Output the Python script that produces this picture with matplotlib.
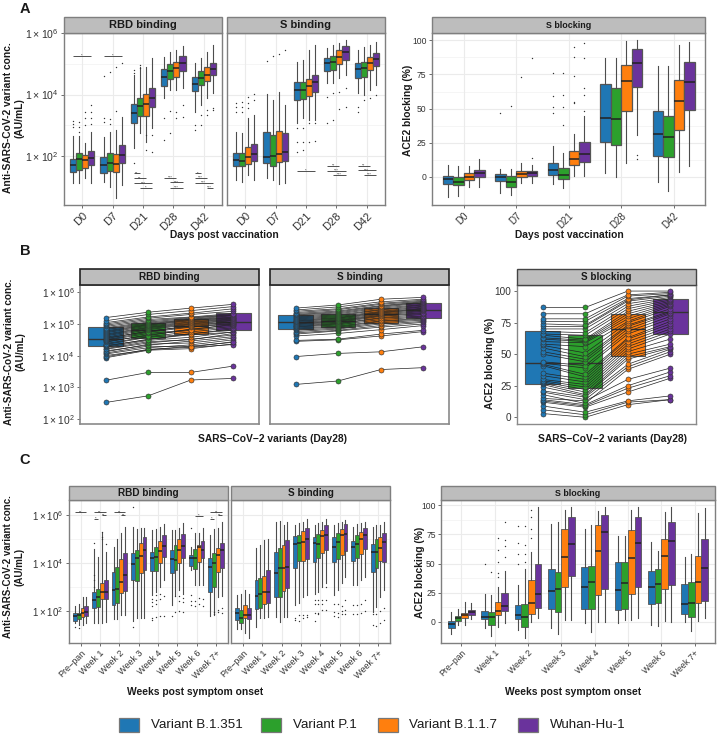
import matplotlib
matplotlib.use("Agg")
import matplotlib.pyplot as plt
from matplotlib.patches import Rectangle

plt.rcParams['font.family'] = ['Liberation Sans', 'DejaVu Sans']
plt.rcParams['mathtext.fontset'] = 'custom'
plt.rcParams['mathtext.rm'] = 'Liberation Sans'

W, H = 718, 735

variants = ['Variant B.1.351', 'Variant P.1', 'Variant B.1.1.7', 'Wuhan-Hu-1']
colors = ['#1f77b4', '#2ca02c', '#ff7f0e', '#6a339c']
days = ['D0', 'D7', 'D21', 'D28', 'D42']
weeks = ['Pre\u2212pan', 'Week 1', 'Week 2', 'Week 3', 'Week 4', 'Week 5', 'Week 6', 'Week 7+']

# every box is [q3, median, q1, whisker high, whisker low]; binding values are log10(AU/mL)
a_rbd = [
    [[1.88, 1.69, 1.46, 2.64, 1.10], [2.08, 1.88, 1.53, 2.64, 1.10], [2.01, 1.86, 1.59, 2.40, 1.26], [2.15, 1.91, 1.69, 2.78, 1.10]],
    [[1.97, 1.69, 1.42, 2.62, 1.15], [2.10, 1.75, 1.51, 2.78, 0.99], [2.05, 1.72, 1.46, 2.84, 0.63], [2.35, 2.02, 1.75, 3.28, 1.04]],
    [[3.69, 3.41, 3.08, 4.64, 2.24], [3.90, 3.62, 3.31, 4.91, 2.73], [4.01, 3.69, 3.31, 4.91, 2.46], [4.20, 3.90, 3.60, 5.18, 2.89]],
    [[4.82, 4.56, 4.28, 5.24, 3.87], [4.99, 4.77, 4.50, 5.40, 4.15], [5.07, 4.86, 4.58, 5.45, 4.15], [5.26, 5.02, 4.76, 5.59, 4.20]],
    [[4.58, 4.34, 4.10, 5.02, 3.44], [4.78, 4.53, 4.31, 5.18, 3.66], [4.89, 4.64, 4.44, 5.40, 3.87], [5.04, 4.82, 4.63, 5.62, 4.04]],
]
a_rbd_out = [
    [[3.14, 3.04, 2.93], [3.11, 2.95, 2.78], [3.44, 3.22, 3.00], [3.66, 3.44, 3.22, 3.04]],
    [[4.60, 3.22, 3.10], [4.75, 3.20, 3.05], [4.89, 3.45], [5.04]],
    [[4.80, 4.69, 1.75], [4.96, 4.86], [2.20, 2.68], [2.13, 2.68]],
    [[2.51, 3.22], [2.73, 3.46], [3.44, 3.22], [3.66, 3.28]],
    [[2.84, 3.00], [3.00, 3.33], [3.33, 3.50], [3.57, 3.49]],
]
a_s = [
    [[2.08, 1.86, 1.67, 2.78, 1.20], [2.10, 1.84, 1.67, 2.73, 1.15], [2.27, 1.97, 1.72, 3.22, 1.37], [2.37, 2.05, 1.83, 3.33, 1.20]],
    [[2.76, 1.97, 1.77, 4.01, 1.26], [2.68, 1.99, 1.67, 3.82, 1.20], [2.82, 2.05, 1.80, 4.07, 1.06], [2.73, 2.13, 1.84, 3.65, 1.12]],
    [[4.40, 4.15, 3.82, 5.07, 3.06], [4.40, 4.15, 3.84, 5.13, 3.22], [4.51, 4.28, 3.95, 5.45, 3.17], [4.64, 4.42, 4.07, 5.62, 3.17]],
    [[5.20, 5.02, 4.78, 5.51, 4.37], [5.26, 5.07, 4.80, 5.62, 4.37], [5.45, 5.22, 4.99, 5.69, 4.53], [5.60, 5.40, 5.13, 5.78, 4.64]],
    [[5.02, 4.82, 4.53, 5.45, 4.04], [5.05, 4.88, 4.58, 5.56, 3.98], [5.22, 5.02, 4.80, 5.62, 4.15], [5.35, 5.15, 4.94, 5.73, 4.31]],
]
a_s_out = [
    [[3.71, 3.58, 3.44], [3.75, 3.58, 3.44], [3.91, 3.71, 3.55], [4.01, 3.82]],
    [[5.10], [5.26], [5.31], [5.45]],
    [[2.89, 2.46, 2.13], [2.89, 2.46, 2.19], [3.08, 2.46], [3.08, 2.48]],
    [[3.06, 3.93], [3.17, 4.04], [3.53, 4.09], [3.58, 4.22]],
    [[3.44, 3.60], [3.82], [3.87], [3.98]],
]
a_block = [
    [[0.5, -2, -5.4, 8.6, -15], [-0.5, -3.7, -6.4, 7.8, -14], [2.4, 0, -2.4, 7.8, -7.8], [4.9, 2.4, -0.5, 13, -7.8]],
    [[2, -0.5, -3.2, 6, -12], [0.5, -3.7, -7.3, 6, -13.4], [3.9, 2, -0.5, 9.8, -4.9], [4.4, 2.4, 0.7, 8.6, -4.4]],
    [[10.3, 4.9, 1, 22.5, -5.4], [6.1, 1, -2, 17.6, -8.6], [19, 13.2, 8.3, 31, 0.5], [25.7, 17, 10.5, 44.5, 0.5]],
    [[68, 42.8, 25.7, 86.8, 3], [64.8, 42.5, 23, 86.8, -0.5], [81.7, 70, 48.2, 99.8, 9.8], [94, 83.6, 66, 100, 30.6]],
    [[48, 31, 15.4, 81.4, -3.7], [44.5, 28.9, 14.2, 81.4, -10.5], [70.7, 55.7, 34, 96.6, 3.7], [84.4, 69.4, 48.7, 99, 7.8]],
]
a_block_out = [
    [[], [], [], []],
    [[47], [52], [73.5], [87, 13.5]],
    [[76, 59, 51, 47], [76, 60, 51, 38], [95, 88, 74, 55, 54], [98, 87, 65, 60, 48]],
    [[], [], [], [16, 13]],
    [[], [], [], []],
]

# (group, from variant, to variant, log10 height, stars)
a_rbd_sig = [
    (0, 0, 3, 5.26, '*'), (1, 0, 3, 5.26, '*'),
    (2, 0, 1, 1.42, '**'), (2, 0, 2, 1.26, '**'), (2, 0, 3, 1.10, '***'), (2, 1, 3, 0.95, '*'),
    (3, 0, 2, 1.28, '***'), (3, 1, 3, 1.13, '***'), (3, 1, 3, 0.96, '***'),
    (4, 0, 1, 1.42, '*'), (4, 0, 2, 1.28, '***'), (4, 0, 3, 1.12, '***'), (4, 2, 3, 0.96, '***'),
]
a_s_sig = [
    (2, 0, 3, 1.51, '*'),
    (3, 0, 2, 1.66, '**'), (3, 0, 3, 1.51, '***'), (3, 1, 3, 1.37, '***'),
    (4, 0, 2, 1.67, '**'), (4, 0, 3, 1.52, '***'), (4, 1, 3, 1.37, '***'),
]

# panel B: one row per subject, values in the order of `variants`
b_rbd = [
    [2.52, 2.73, 3.23, 3.28], [3.22, 3.47, 3.47, 3.67], [3.93, 4.17, 4.22, 4.37], [3.96, 4.20, 4.26, 4.35],
    [4.00, 4.18, 4.30, 4.42], [4.05, 4.25, 4.34, 4.50], [4.08, 4.30, 4.27, 4.44], [4.12, 4.36, 4.40, 4.55],
    [4.15, 4.33, 4.46, 4.60], [4.20, 4.40, 4.52, 4.65], [4.22, 4.44, 4.50, 4.70], [4.26, 4.48, 4.58, 4.75],
    [4.29, 4.52, 4.66, 4.74], [4.32, 4.50, 4.70, 4.80], [4.35, 4.58, 4.68, 4.85], [4.38, 4.60, 4.75, 4.88],
    [4.42, 4.66, 4.80, 4.92], [4.45, 4.63, 4.84, 4.96], [4.48, 4.70, 4.82, 4.99], [4.50, 4.74, 4.90, 5.00],
    [4.53, 4.78, 4.92, 5.02], [4.56, 4.76, 4.95, 5.05], [4.58, 4.82, 4.98, 5.06], [4.62, 4.85, 5.00, 5.10],
    [4.65, 4.88, 5.02, 5.12], [4.68, 4.90, 5.05, 5.14], [4.72, 4.93, 5.07, 5.16], [4.75, 4.96, 5.10, 5.18],
    [4.78, 4.98, 5.12, 5.20], [4.82, 5.00, 5.14, 5.22], [4.85, 5.03, 5.15, 5.26], [4.88, 5.06, 5.18, 5.28],
    [4.92, 5.10, 5.20, 5.30], [4.96, 5.14, 5.22, 5.33], [5.00, 5.18, 5.30, 5.40], [5.04, 5.22, 5.34, 5.48],
    [5.10, 5.30, 5.42, 5.55], [5.20, 5.37, 5.50, 5.62],
]
b_s = [
    [3.09, 3.20, 3.56, 3.62], [3.97, 4.07, 4.12, 4.28], [4.45, 4.50, 4.62, 4.76], [4.48, 4.52, 4.68, 4.80],
    [4.62, 4.70, 4.82, 4.95], [4.68, 4.78, 4.90, 5.00], [4.72, 4.80, 4.95, 5.05], [4.76, 4.84, 5.00, 5.08],
    [4.80, 4.87, 5.04, 5.12], [4.84, 4.90, 5.08, 5.15], [4.87, 4.93, 5.10, 5.18], [4.90, 4.97, 5.14, 5.22],
    [4.92, 5.00, 5.18, 5.25], [4.95, 5.02, 5.20, 5.30], [4.98, 5.05, 5.24, 5.33], [5.00, 5.08, 5.26, 5.36],
    [5.02, 5.10, 5.28, 5.40], [5.05, 5.12, 5.31, 5.43], [5.08, 5.15, 5.34, 5.46], [5.10, 5.18, 5.36, 5.48],
    [5.13, 5.20, 5.38, 5.50], [5.16, 5.23, 5.40, 5.54], [5.19, 5.26, 5.44, 5.56], [5.22, 5.29, 5.46, 5.60],
    [5.25, 5.32, 5.50, 5.62], [5.28, 5.35, 5.53, 5.66], [5.30, 5.38, 5.56, 5.68], [5.33, 5.41, 5.58, 5.70],
    [5.36, 5.45, 5.62, 5.72], [5.40, 5.48, 5.65, 5.75], [5.44, 5.54, 5.70, 5.78], [5.50, 5.60, 5.78, 5.84],
]
b_block = [
    [3, 0, 10, 14], [6, 2, 12, 14], [9, 4, 13, 17], [12, 8, 20, 31], [13, 9, 23, 33], [14, 10, 25, 36],
    [15, 13, 30, 39], [18, 11, 38, 50], [20, 14, 40, 52], [21, 16, 42, 54], [24, 17, 46, 55], [26, 18, 48, 56],
    [27, 20, 50, 58], [28, 22, 52, 62], [29, 24, 54, 66], [30, 26, 56, 68], [33, 28, 58, 70], [35, 30, 60, 72],
    [41, 32, 62, 74], [42, 34, 63, 76], [43, 39, 66, 78], [44, 41, 68, 80], [50, 44, 70, 82], [52, 46, 72, 83],
    [55, 48, 73, 84], [57, 51, 75, 86], [58, 56, 76, 88], [60, 59, 78, 89], [62, 60, 80, 90], [63, 61, 82, 91],
    [65, 62, 84, 92], [66, 65, 86, 93], [68, 67, 88, 94], [70, 70, 90, 95], [72, 72, 92, 96], [74, 73, 93, 97],
    [76, 76, 94, 97], [78, 78, 96, 98], [82, 82, 97, 99], [87, 87, 100, 100],
]
b_rbd_box = [[4.89, 4.54, 4.31], [5.04, 4.81, 4.55], [5.16, 4.95, 4.68], [5.34, 5.05, 4.82]]
b_s_box = [[5.28, 5.05, 4.84], [5.32, 5.09, 4.89], [5.49, 5.31, 5.04], [5.66, 5.43, 5.19]]
b_block_box = [[68, 42.7, 26], [65, 42.7, 23.2], [81.8, 70, 48.8], [94, 83.6, 66]]

c_rbd = [
    [[1.89, 1.78, 1.58, 2.20, 1.47], [1.92, 1.82, 1.65, 2.30, 1.40], [2.10, 1.92, 1.75, 2.59, 1.40], [2.21, 1.96, 1.78, 2.59, 1.47]],
    [[2.77, 2.45, 2.13, 4.60, 1.47], [2.91, 2.59, 2.17, 4.26, 1.47], [3.17, 2.79, 2.47, 5.23, 1.50], [3.28, 2.79, 2.47, 4.44, 1.54]],
    [[3.62, 2.86, 2.24, 4.68, 1.65], [3.81, 2.91, 2.31, 4.98, 1.65], [4.15, 3.21, 2.75, 5.23, 1.82], [4.40, 3.49, 2.82, 5.51, 1.82]],
    [[4.40, 3.94, 3.28, 5.51, 1.58], [4.56, 4.19, 3.25, 5.40, 1.68], [4.82, 4.29, 3.59, 5.44, 1.68], [5.09, 4.54, 3.70, 5.48, 1.68]],
    [[4.47, 4.19, 3.67, 5.37, 2.66], [4.65, 4.23, 3.67, 5.40, 2.79], [4.93, 4.51, 4.01, 5.51, 3.00], [5.16, 4.70, 4.23, 5.61, 3.28]],
    [[4.54, 4.15, 3.56, 5.37, 2.24], [4.75, 4.12, 3.70, 5.37, 2.66], [4.98, 4.54, 4.01, 5.44, 2.86], [5.21, 4.70, 4.19, 5.65, 2.72]],
    [[4.33, 4.19, 3.87, 4.65, 3.70], [4.58, 4.19, 3.74, 5.26, 3.07], [4.75, 4.65, 4.05, 5.23, 3.07], [4.91, 4.54, 4.22, 5.44, 3.07]],
    [[4.19, 3.84, 2.79, 5.16, 1.78], [4.40, 4.01, 3.00, 5.40, 1.82], [4.61, 4.33, 3.63, 5.44, 2.59], [4.82, 4.54, 3.77, 5.72, 2.61]],
]
c_rbd_out = [
    [[1.30], [1.28], [], []],
    [[4.85, 3.50, 3.30, 3.00], [], [5.30, 5.10, 5.00], [4.80]],
    [[], [], [], []],
    [[6.35, 1.30], [], [], []],
    [[2.50, 2.35, 2.20, 1.68, 1.60], [2.65, 2.45, 2.30, 1.72], [2.70, 2.50, 1.78], [2.60, 1.78]],
    [[1.80], [1.95, 2.60], [2.60, 2.40, 2.00], [2.55, 2.35, 1.95]],
    [[5.44, 2.66, 2.40, 2.25], [2.40, 2.20], [2.55, 2.30], [2.50, 2.20]],
    [[], [1.95, 1.85], [2.05, 1.95], [2.10, 1.90]],
]
c_s = [
    [[2.13, 1.89, 1.61, 2.66, 1.22], [2.03, 1.68, 1.47, 2.72, 1.22], [2.26, 1.82, 1.68, 2.86, 1.05], [2.10, 1.82, 1.65, 2.72, 0.84]],
    [[3.28, 2.61, 2.06, 4.63, 1.33], [3.35, 2.72, 2.10, 4.75, 1.68], [3.46, 2.79, 2.28, 4.95, 1.68], [3.70, 2.79, 2.33, 4.98, 1.72]],
    [[4.47, 3.56, 2.56, 5.72, 1.75], [4.61, 3.77, 2.59, 5.75, 1.54], [4.75, 3.77, 2.84, 5.58, 1.75], [4.95, 3.81, 2.93, 5.72, 1.75]],
    [[5.12, 4.79, 3.80, 5.58, 2.24], [5.16, 4.84, 4.09, 5.65, 2.31], [5.33, 4.88, 4.09, 5.72, 2.59], [5.47, 4.98, 4.16, 5.82, 2.66]],
    [[5.07, 4.82, 4.05, 5.58, 2.72], [5.21, 4.79, 4.19, 5.65, 2.79], [5.37, 5.12, 4.40, 5.72, 3.00], [5.58, 5.16, 4.54, 5.82, 3.14]],
    [[5.09, 4.68, 4.05, 5.58, 2.66], [5.23, 4.88, 4.16, 5.68, 2.86], [5.40, 5.16, 4.33, 5.72, 3.14], [5.62, 5.21, 4.49, 5.79, 3.42]],
    [[4.91, 4.65, 4.09, 5.51, 3.07], [5.16, 4.79, 4.19, 5.61, 3.07], [5.28, 5.02, 4.37, 5.68, 3.28], [5.44, 5.16, 4.58, 5.72, 3.42]],
    [[4.79, 4.47, 3.60, 5.51, 1.96], [5.02, 4.47, 3.77, 5.58, 2.17], [5.09, 4.61, 4.09, 5.58, 2.59], [5.23, 4.88, 4.05, 5.72, 2.86]],
]
c_s_out = [
    [[], [], [], []], [[], [], [], []], [[], [], [], []],
    [[1.68, 1.60], [1.82, 1.55], [1.82, 1.68], [1.82, 1.72]],
    [[2.45, 2.30, 1.90, 1.55], [2.45, 2.30, 1.85, 1.92], [2.45, 2.30, 2.02], [3.00, 2.45, 2.02]],
    [[2.30, 1.95, 1.80], [2.30, 1.90, 1.75], [2.20, 2.00, 1.85], [2.45, 2.05, 1.85]],
    [[2.25, 1.85], [2.25, 1.85], [2.30, 1.90], [2.45, 2.00]],
    [[1.85, 1.40], [1.85, 1.35], [2.00, 1.50], [2.10, 1.60]],
]
c_block = [
    [[0.9, -2, -5, 8.6, -10.9], [5, 3.4, 0.9, 10.9, -2.9], [7.7, 5.4, 2.9, 17, -2.9], [10, 8.3, 6, 15.8, 2.3]],
    [[9.5, 4.3, 2, 24, -5.7], [8.6, 4, -2.9, 23, -12], [16.6, 9.5, 5.7, 30, -4.9], [24.4, 13.5, 9.5, 43.6, -0.9]],
    [[14.3, 5.7, 2, 31.5, -7.2], [15.2, 4.3, -4.3, 45, -13.8], [35.5, 16.3, 6.6, 60, 0], [50, 23.8, 11.5, 99, 2.9]],
    [[45.3, 26.6, 10.9, 84, -5.7], [42.7, 27.8, 8.6, 85.4, -10.6], [79.7, 55.3, 29.5, 96, 1.4], [90.3, 66.8, 39.5, 99, 1.4]],
    [[46.7, 30, 10.6, 80, -1.4], [47.9, 34, 10.6, 83, -8.6], [82.8, 61, 22.6, 95.4, 0], [91.4, 76.8, 28, 98.3, 0]],
    [[51.3, 27.2, 10.3, 74, -1.4], [51.3, 33, 11.2, 74, 1.4], [79, 54.4, 24, 96, 1.4], [90.3, 67.3, 29.5, 99, 2.9]],
    [[44, 29.5, 15.5, 68.8, -2.9], [45.3, 32.4, 16.3, 60.7, -3.7], [71, 56.4, 27.8, 94, 0.9], [85.4, 69.3, 31.8, 98.3, 0]],
    [[32, 14.9, 6.9, 55.3, -0.6], [34.4, 16.3, 3.7, 58, -7.7], [56.2, 34, 15.8, 93, 0.9], [70.8, 46.4, 17.5, 97.4, 3.4]],
]
c_block_out = [
    [[], [], [], []],
    [[50], [43], [72, 62, 51, 42, 38], [85.5, 70, 65, 56]],
    [[82.5, 68, 58, 50], [82, 66, 58, 51], [96, 90, 80, 72], []],
    [[], [], [], []], [[], [], [], []], [[], [], [], []], [[], [], [], []], [[], [], [], []],
]
c_rbd_sig = [
    (0, 0, 3, 6.11, '**'),
    (1, 0, 3, 6.11, '**'), (1, 2, 3, 5.99, '**'), (1, 0, 1, 5.83, '*'),
    (2, 0, 3, 6.11, '**'), (2, 2, 3, 5.99, '**'),
    (6, 1, 3, 5.97, '*'),
    (7, 0, 3, 6.11, '**'), (7, 2, 3, 5.99, '**'), (7, 0, 1, 5.83, '*'),
]

fig = plt.figure(figsize=(W / 100, H / 100), dpi=100)


def new_panel(x0, x1, y0, y1, strip_top, title, title_size, edge='#7f7f7f', strip_edge='#7f7f7f', lw=1.0):
    ax = fig.add_axes([x0 / W, 1 - y1 / H, (x1 - x0) / W, (y1 - y0) / H])
    for s in ax.spines.values():
        s.set_color(edge)
        s.set_linewidth(lw)
    strip = Rectangle((x0 / W, 1 - y0 / H), (x1 - x0) / W, (y0 - strip_top) / H, transform=fig.transFigure,
                      facecolor='#bdbdbd', edgecolor=strip_edge, linewidth=lw)
    fig.add_artist(strip)
    fig.text((x0 + x1) / 2 / W, 1 - (y0 + strip_top) / 2 / H, title, ha='center', va='center',
             fontsize=title_size, fontweight='bold', color='#1a1a1a')
    return ax


def set_log_axis(ax, ylim, ticks, size):
    ax.set_yscale('log')
    ax.set_ylim(10 ** ylim[0], 10 ** ylim[1])
    ax.set_yticks([10.0 ** t for t in ticks])
    ax.set_yticklabels(['$1\\times10^{%d}$' % t for t in ticks], fontsize=size, color='#333333')
    ax.minorticks_off()


def set_pct_axis(ax, ylim, size):
    ax.set_ylim(*ylim)
    ax.set_yticks([0, 25, 50, 75, 100])
    ax.set_yticklabels(['0', '25', '50', '75', '100'], fontsize=size, color='#333333')


def add_grid(ax, log, ticks):
    ax.set_axisbelow(True)
    ax.grid(True, color='#ebebeb', linewidth=0.8)
    if log:
        minors = [10.0 ** (t + 1) for t in ticks]
    else:
        minors = [12.5, 37.5, 62.5, 87.5]
    for m in minors:
        ax.axhline(m, color='#f2f2f2', linewidth=0.5, zorder=0)


def draw_boxes(ax, stats, outliers, labels, log, tick_size, box_lw=0.9):
    for g, group in enumerate(stats):
        for v, b in enumerate(group):
            if log:
                q3, med, q1, hi, lo = [10 ** x for x in b]
                out = [10 ** x for x in outliers[g][v]] if outliers else []
            else:
                q3, med, q1, hi, lo = b
                out = outliers[g][v] if outliers else []
            pos = g + 1 + (v - 1.5) * 0.2
            ax.bxp([dict(med=med, q1=q1, q3=q3, whislo=lo, whishi=hi, fliers=out)], positions=[pos], widths=0.2,
                   patch_artist=True, showcaps=False, manage_ticks=False,
                   boxprops=dict(facecolor=colors[v], edgecolor='#555555', linewidth=box_lw),
                   medianprops=dict(color='#222222', linewidth=1.1),
                   whiskerprops=dict(color='#4d4d4d', linewidth=0.8),
                   flierprops=dict(marker='o', markersize=1.0, markerfacecolor='#333333',
                                   markeredgecolor='none', linestyle='none'))
    ax.set_xlim(0.4, len(stats) + 0.6)
    ax.set_xticks(range(1, len(stats) + 1))
    ax.set_xticklabels(labels, rotation=45, ha='right', rotation_mode='anchor', fontsize=tick_size, color='#333333')
    ax.tick_params(length=2, width=0.6, color='#555555', pad=2)


def draw_sig(ax, sig):
    for g, a, b, y, stars in sig:
        x1 = g + 1 + (a - 1.5) * 0.2
        x2 = g + 1 + (b - 1.5) * 0.2
        ax.plot([x1, x2], [10 ** y, 10 ** y], color='#333333', linewidth=0.6, solid_capstyle='butt')
        ax.text((x1 + x2) / 2, 10 ** y, stars, ha='center', va='center', fontsize=3, color='#333333')


def draw_paired(ax, rows, box, log, tick_size):
    for v, b in enumerate(box):
        q3, med, q1 = [10 ** x for x in b] if log else b
        ax.bxp([dict(med=med, q1=q1, q3=q3, whislo=q1, whishi=q3, fliers=[])], positions=[v + 1], widths=0.81,
               patch_artist=True, showcaps=False, manage_ticks=False,
               boxprops=dict(facecolor=colors[v], edgecolor='#555555', linewidth=0.8),
               medianprops=dict(color='#333333', linewidth=1.0),
               whiskerprops=dict(linewidth=0))
    for row in rows:
        vals = [10 ** x for x in row] if log else row
        ax.plot([1, 2, 3, 4], vals, color='#222222', linewidth=0.5, zorder=4)
    for v in range(4):
        vals = [(10 ** r[v] if log else r[v]) for r in rows]
        ax.plot([v + 1] * len(vals), vals, linestyle='none', marker='o', markersize=3.6, markerfacecolor=colors[v],
                markeredgecolor='#333333', markeredgewidth=0.45, zorder=5)
    ax.set_xlim(0.4, 4.6)
    ax.set_xticks([])
    ax.tick_params(length=2, width=0.6, color='#555555', pad=2)


def label(x, y, s, size, rotation=0):
    fig.text(x / W, 1 - y / H, s, ha='center', va='center', fontsize=size, fontweight='bold', rotation=rotation,
             color='#1a1a1a', linespacing=1.15)


# panel A
ax = new_panel(64, 222, 33, 205, 17, 'RBD binding', 8)
set_log_axis(ax, (0.39, 6.01), [2, 4, 6], 7.6)
add_grid(ax, True, [2, 4])
draw_boxes(ax, a_rbd, a_rbd_out, days, True, 8)
draw_sig(ax, a_rbd_sig)

ax = new_panel(227, 385, 33, 205, 17, 'S binding', 8)
set_log_axis(ax, (0.39, 6.01), [2, 4, 6], 7.6)
add_grid(ax, True, [2, 4])
draw_boxes(ax, a_s, a_s_out, days, True, 8)
ax.tick_params(labelleft=False, left=False)
draw_sig(ax, a_s_sig)

ax = new_panel(432, 705, 33, 205, 17, 'S blocking', 6.4)
set_pct_axis(ax, (-20.7, 105.4), 6.2)
add_grid(ax, False, None)
draw_boxes(ax, a_block, a_block_out, days, False, 7)

# panel B
ax = new_panel(80, 259, 285, 423.7, 269.3, 'RBD binding', 7.2, strip_edge='#222222', edge='#8a8a8a', lw=1.2)
set_log_axis(ax, (1.85, 6.23), [2, 3, 4, 5, 6], 7.4)
draw_paired(ax, b_rbd, b_rbd_box, True, 7)

ax = new_panel(270, 449, 285, 423.7, 269.3, 'S binding', 7.2, strip_edge='#222222', edge='#8a8a8a', lw=1.2)
set_log_axis(ax, (1.85, 6.23), [2, 3, 4, 5, 6], 7.4)
draw_paired(ax, b_s, b_s_box, True, 7)
ax.tick_params(labelleft=False, left=False)

ax = new_panel(517, 696, 285, 423.7, 269.3, 'S blocking', 7.1, strip_edge='#444444', edge='#8a8a8a', lw=1.0)
set_pct_axis(ax, (-5.07, 104.8), 7.2)
draw_paired(ax, b_block, b_block_box, False, 8)

# panel C
ax = new_panel(69, 227.7, 500, 643, 486.3, 'RBD binding', 7.2)
set_log_axis(ax, (0.65, 6.63), [2, 4, 6], 7)
add_grid(ax, True, [2, 4])
draw_boxes(ax, c_rbd, c_rbd_out, weeks, True, 6.5, box_lw=0.6)
draw_sig(ax, c_rbd_sig)

ax = new_panel(231.3, 390, 500, 643, 486.3, 'S binding', 7.2)
set_log_axis(ax, (0.65, 6.63), [2, 4, 6], 7)
add_grid(ax, True, [2, 4])
draw_boxes(ax, c_s, c_s_out, weeks, True, 6.5, box_lw=0.6)
ax.tick_params(labelleft=False, left=False)

ax = new_panel(441.3, 714.7, 500, 643, 486.3, 'S blocking', 6.4)
set_pct_axis(ax, (-18.3, 104.6), 6.2)
add_grid(ax, False, None)
draw_boxes(ax, c_block, c_block_out, weeks, False, 6.2, box_lw=0.6)

# outer labels
ylab = 'Anti-SARS-CoV-2 variant conc.\n(AU/mL)'
label(14, 118, ylab, 7.4, 90)
label(408, 110, 'ACE2 blocking (%)', 7.4, 90)
label(224, 235, 'Days post vaccination', 7.4)
label(569, 235, 'Days post vaccination', 7.4)
label(15, 352, ylab, 7.2, 90)
label(490, 363, 'ACE2 blocking (%)', 7.4, 90)
label(272, 439, 'SARS\u2212CoV\u22122 variants (Day28)', 7.4)
label(612, 439, 'SARS\u2212CoV\u22122 variants (Day28)', 7.4)
label(14, 567, ylab, 7, 90)
label(420, 572, 'ACE2 blocking (%)', 7.4, 90)
label(195, 692, 'Weeks post symptom onset', 7.4)
label(573, 692, 'Weeks post symptom onset', 7.4)
label(25, 9, 'A', 10.5)
label(25, 251, 'B', 10.5)
label(25, 460, 'C', 10.5)

# legend
leg_x = [119.3, 261, 377.7, 518]
txt_x = [151, 293, 409, 550]
for i in range(4):
    fig.add_artist(Rectangle((leg_x[i] / W, 1 - 732 / H), 20 / W, 14 / H, transform=fig.transFigure,
                             facecolor=colors[i], edgecolor='#777777', linewidth=0.9))
    fig.text(txt_x[i] / W, 1 - 725.5 / H, variants[i], ha='left', va='center', fontsize=9.6, color='#1a1a1a')

fig.savefig('out.png', dpi=100)
